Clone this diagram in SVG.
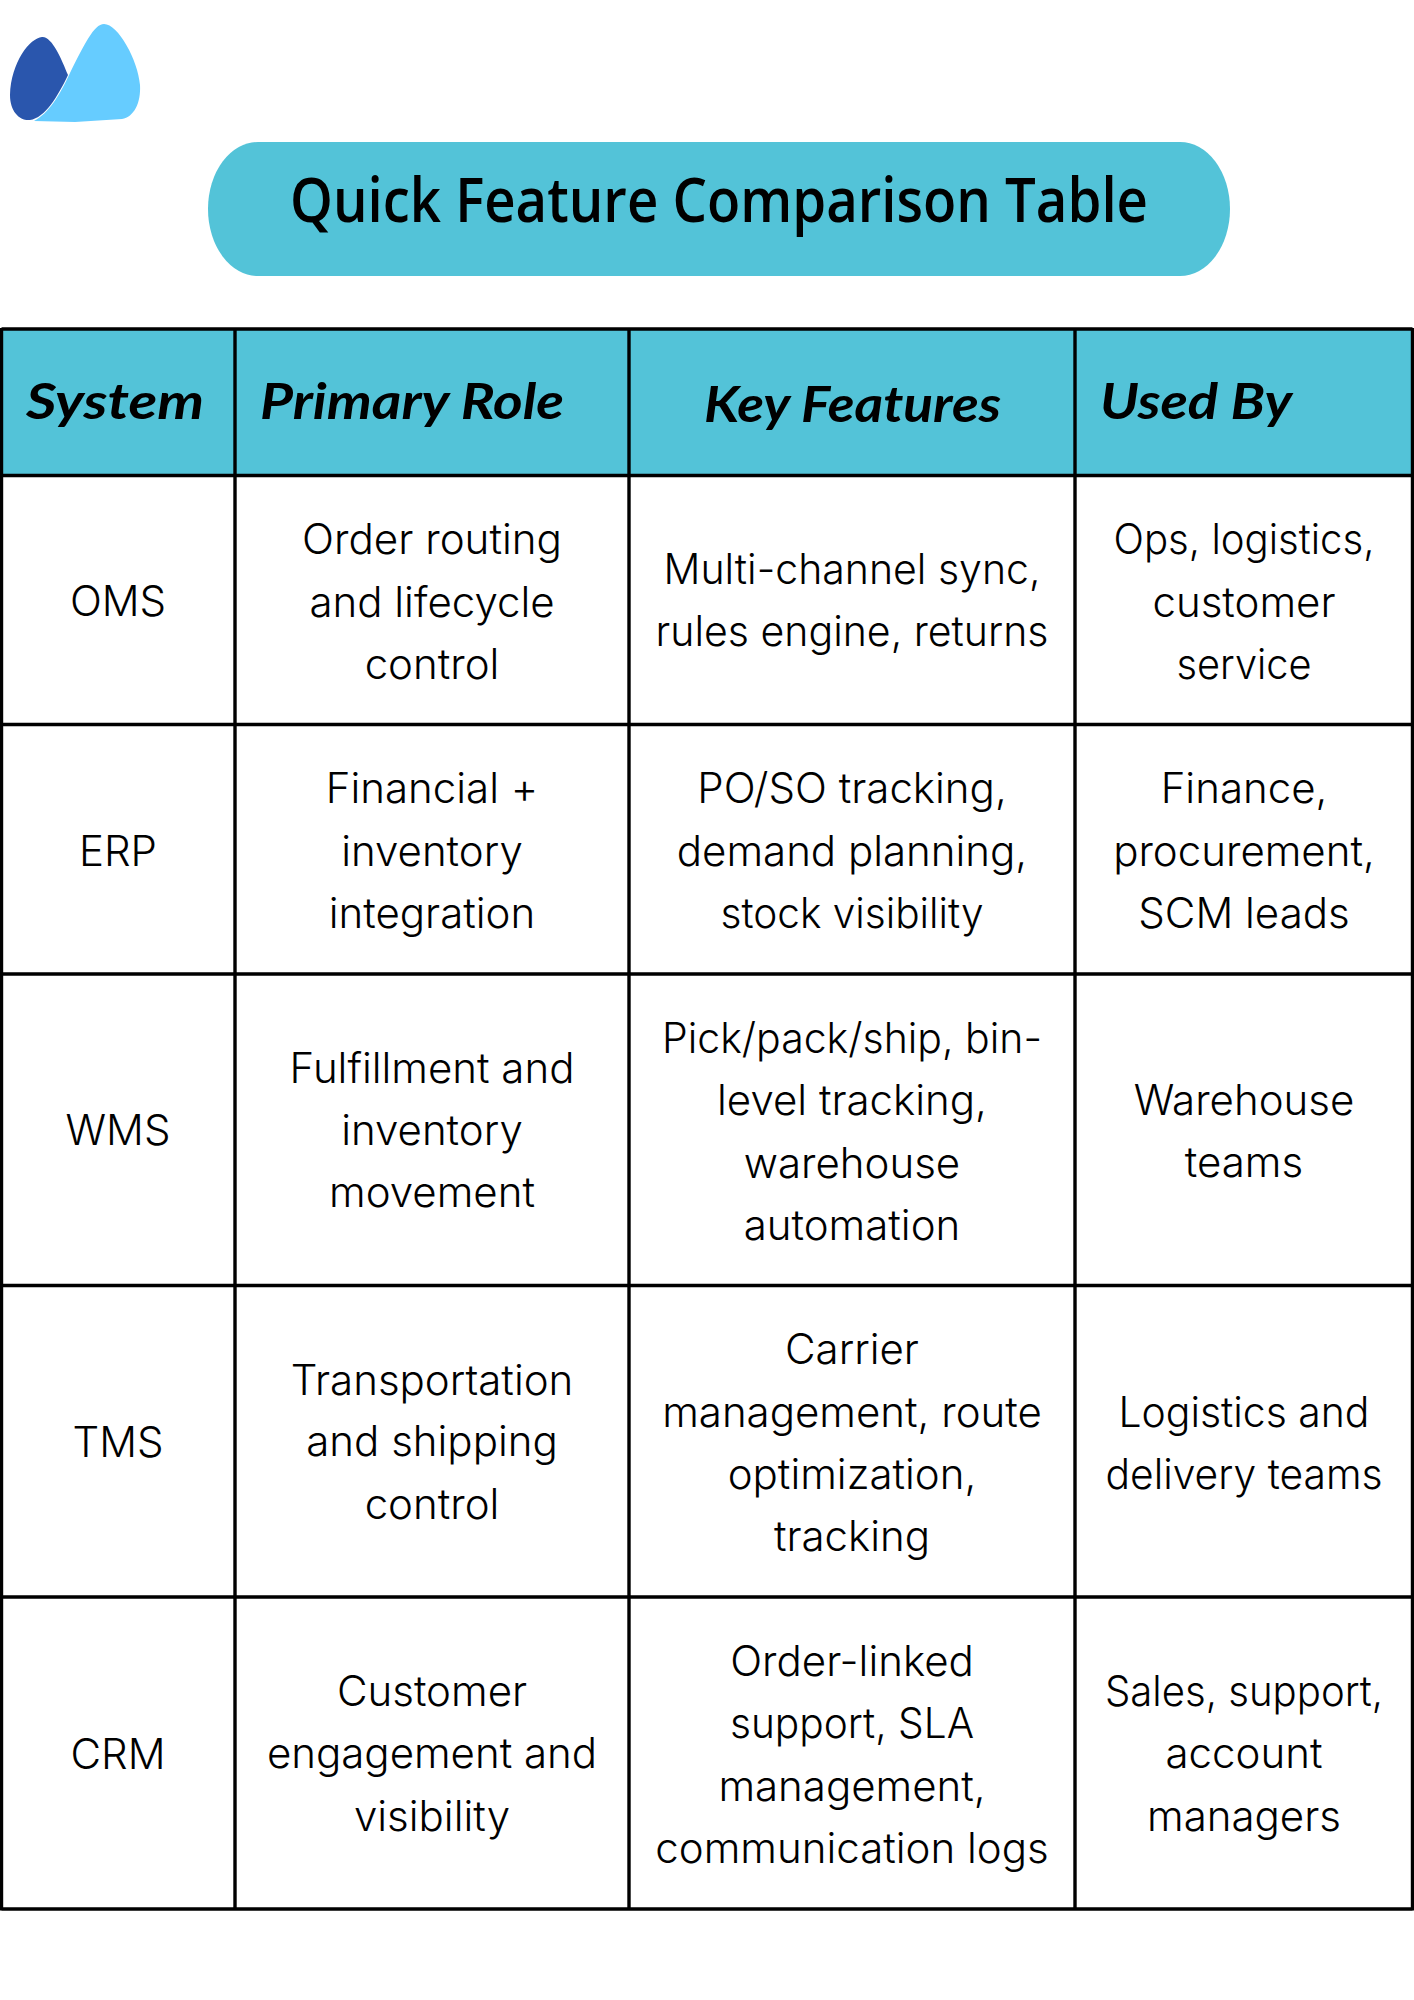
<svg xmlns="http://www.w3.org/2000/svg" width="1414" height="2000" viewBox="0 0 1414 2000">
<style>
.b{font-family:"Inter","Noto Sans",sans-serif;font-weight:300;font-size:42px;fill:#000;text-anchor:middle}
.h{font-family:"Lato","Open Sans",sans-serif;font-weight:700;font-style:italic;font-size:49px;fill:#000}
.t{font-family:"Open Sans","Lato",sans-serif;font-weight:600;font-size:62px;fill:#000;text-anchor:middle}
.l{stroke:#000;stroke-width:3.4;fill:none}
</style>
<rect width="1414" height="2000" fill="#fff"/>
<g id="logo">
<path d="M34 121L75 122L122 119C134 117 141 103 140 85C138 60 118 24 104 24C94 24 84 45 70 73C60 95 48 114 34 121Z" fill="#66ccff"/>
<path d="M42 37C30 38 11 62 10 95C10 112 20 121 30 120C45 118 58 96 68 75C62 60 52 36 42 37Z" fill="#2a56ad"/>
</g>
<g id="title"><rect x="208" y="142" width="1022" height="134" rx="50" ry="67" fill="#53c3d8"/>
<text class="t" x="719" y="222" textLength="858" lengthAdjust="spacingAndGlyphs">Quick Feature Comparison Table</text></g>
<g id="header">
<rect x="2" y="329" width="1410" height="146" fill="#53c3d8"/>
<text class="h" x="26" y="419" textLength="178" lengthAdjust="spacingAndGlyphs">System</text>
<text class="h" x="260" y="419" textLength="304" lengthAdjust="spacingAndGlyphs">Primary Role</text>
<text class="h" x="704" y="422" textLength="297" lengthAdjust="spacingAndGlyphs">Key Features</text>
<text class="h" x="1100" y="419" textLength="192" lengthAdjust="spacingAndGlyphs">Used By</text>
</g>
<g id="connectors">
<path class="l" d="M1.500 329H1412.500M1.500 475.500H1412.500M1.500 724.500H1412.500M1.500 974H1412.500M1.500 1285.500H1412.500M1.500 1597H1412.500M1.500 1909H1412.500M1.500 328V1910.500M235 328V1910.500M629 328V1910.500M1075 328V1910.500M1412.500 328V1910.500"/>
</g>
<g id="row-oms">
<text class="b" x="118" y="616">OMS</text>
<text class="b" x="432" y="554" textLength="260" lengthAdjust="spacingAndGlyphs">Order routing</text><text class="b" x="432" y="617">and lifecycle</text><text class="b" x="432" y="679">control</text>
<text class="b" x="852" y="584" textLength="377" lengthAdjust="spacingAndGlyphs">Multi-channel sync,</text><text class="b" x="852" y="646" textLength="393" lengthAdjust="spacingAndGlyphs">rules engine, returns</text>
<text class="b" x="1244" y="554" textLength="261" lengthAdjust="spacingAndGlyphs">Ops, logistics,</text><text class="b" x="1244" y="617">customer</text><text class="b" x="1244" y="679" textLength="135" lengthAdjust="spacingAndGlyphs">service</text>
</g>
<g id="row-erp">
<text class="b" x="118" y="866">ERP</text>
<text class="b" x="432" y="803">Financial +</text><text class="b" x="432" y="866">inventory</text><text class="b" x="432" y="928">integration</text>
<text class="b" x="852" y="803">PO/SO tracking,</text><text class="b" x="852" y="866">demand planning,</text><text class="b" x="852" y="928" textLength="263" lengthAdjust="spacingAndGlyphs">stock visibility</text>
<text class="b" x="1244" y="803">Finance,</text><text class="b" x="1244" y="866">procurement,</text><text class="b" x="1244" y="928">SCM leads</text>
</g>
<g id="row-wms">
<text class="b" x="118" y="1145">WMS</text>
<text class="b" x="432" y="1083">Fulfillment and</text><text class="b" x="432" y="1145">inventory</text><text class="b" x="432" y="1207">movement</text>
<text class="b" x="852" y="1053" textLength="380" lengthAdjust="spacingAndGlyphs">Pick/pack/ship, bin-</text><text class="b" x="852" y="1115">level tracking,</text><text class="b" x="852" y="1178">warehouse</text><text class="b" x="852" y="1240">automation</text>
<text class="b" x="1244" y="1115">Warehouse</text><text class="b" x="1244" y="1177">teams</text>
</g>
<g id="row-tms">
<text class="b" x="118" y="1457">TMS</text>
<text class="b" x="432" y="1395">Transportation</text><text class="b" x="432" y="1456">and shipping</text><text class="b" x="432" y="1519">control</text>
<text class="b" x="852" y="1364">Carrier</text><text class="b" x="852" y="1427">management, route</text><text class="b" x="852" y="1489">optimization,</text><text class="b" x="852" y="1551">tracking</text>
<text class="b" x="1244" y="1427" textLength="251" lengthAdjust="spacingAndGlyphs">Logistics and</text><text class="b" x="1244" y="1489" textLength="277" lengthAdjust="spacingAndGlyphs">delivery teams</text>
</g>
<g id="row-crm">
<text class="b" x="118" y="1769">CRM</text>
<text class="b" x="432" y="1706">Customer</text><text class="b" x="432" y="1768">engagement and</text><text class="b" x="432" y="1831">visibility</text>
<text class="b" x="852" y="1676">Order-linked</text><text class="b" x="852" y="1738" textLength="244" lengthAdjust="spacingAndGlyphs">support, SLA</text><text class="b" x="852" y="1801">management,</text><text class="b" x="852" y="1863">communication logs</text>
<text class="b" x="1244" y="1706" textLength="278" lengthAdjust="spacingAndGlyphs">Sales, support,</text><text class="b" x="1244" y="1768">account</text><text class="b" x="1244" y="1831">managers</text>
</g>
</svg>
